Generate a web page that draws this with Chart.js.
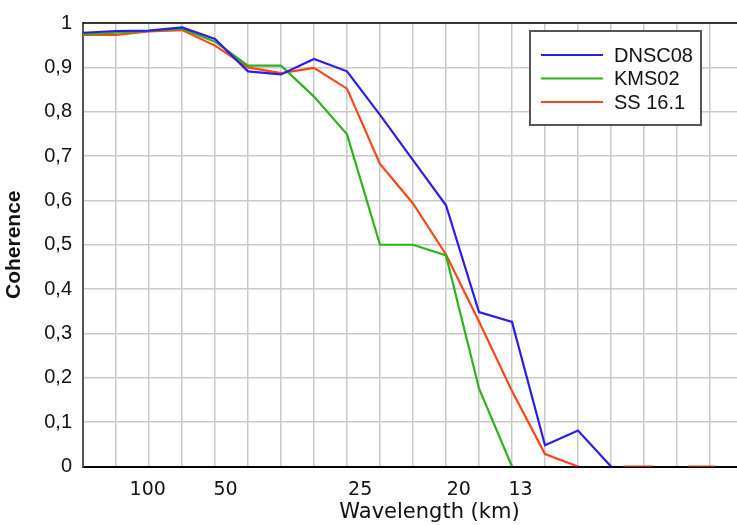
<!DOCTYPE html>
<html lang="en">

<head>
    <meta charset="UTF-8">
    <title>Coherence vs wavelength</title>
    <style>
        html, body {
            margin: 0;
            padding: 0;
            background-color: #fff;
            overflow: hidden;
        }

        .wrap {
            width: 788px;
            height: 525px;
        }
    </style>
</head>

<body>
    <div class="wrap">
        <canvas id="coherenceChart" width="788" height="525"></canvas>
    </div>

    <script src="https://cdn.jsdelivr.net/npm/chart.js"></script>
    <script>
        // spectral bins along the x axis (one per grid line)
        const binIndex = [0, 1, 2, 3, 4, 5, 6, 7, 8, 9, 10, 11, 12, 13, 14, 15, 16];

        const dnsc08 = [0.978, 0.982, 0.983, 0.990, 0.964, 0.891, 0.884, 0.919, 0.891, 0.793, 0.691, 0.589, 0.348, 0.326, 0.048, 0.081, 0];
        const kms02 = [0.975, 0.978, 0.982, 0.987, 0.958, 0.904, 0.904, 0.834, 0.749, 0.500, 0.500, 0.476, 0.176, 0];
        const ss161 = [0.973, 0.973, 0.981, 0.984, 0.949, 0.900, 0.887, 0.899, 0.852, 0.682, 0.593, 0.478, 0.327, 0.170, 0.028, 0];
        // short zero stretches at the end of SS 16.1 (null = gap)
        const ss161TailX = [15.5, 16.37, 17.28, 17.8, 18.34, 19.15];
        const ss161TailY = [null, 0, 0, null, 0, 0];

        // wavelength labels and where they sit on the bin axis
        const wavelengthLabels = ['100', '50', '25', '20', '13'];
        const wavelengthPos = [1.96, 4.32, 8.4, 11.39, 13.26];

        const gridColor = '#c9c9c9';

        function toPoints(values) {
            return values.map((y, i) => ({ x: binIndex[i], y: y }));
        }

        const ssPoints = toPoints(ss161).concat(ss161TailX.map((x, i) => ({ x: x, y: ss161TailY[i] })));

        // top frame line + boxed legend inside the plot
        const framePlugin = {
            id: 'frame',
            afterDatasetsDraw(chart) {
                const ctx = chart.ctx;
                const a = chart.chartArea;
                ctx.save();
                ctx.strokeStyle = '#000';
                ctx.lineWidth = 1.5;
                ctx.beginPath();
                ctx.moveTo(a.left, a.top);
                ctx.lineTo(a.right, a.top);
                ctx.stroke();

                const bx = a.left + 447, by = a.top + 8, bw = 171, bh = 94;
                ctx.fillStyle = '#fff';
                ctx.fillRect(bx, by, bw, bh);
                ctx.strokeStyle = '#555';
                ctx.lineWidth = 2;
                ctx.strokeRect(bx, by, bw, bh);

                ctx.font = '20px "Liberation Sans", Arial, sans-serif';
                ctx.textBaseline = 'middle';
                ctx.textAlign = 'left';
                chart.data.datasets.forEach((ds, i) => {
                    const y = by + 24 + i * 23.5;
                    ctx.strokeStyle = ds.borderColor;
                    ctx.lineWidth = 2;
                    ctx.beginPath();
                    ctx.moveTo(bx + 11, y);
                    ctx.lineTo(bx + 73, y);
                    ctx.stroke();
                    ctx.fillStyle = '#111';
                    ctx.fillText(ds.label, bx + 84, y + 1);
                });
                ctx.restore();
            }
        };

        const ctx = document.getElementById('coherenceChart').getContext('2d');
        new Chart(ctx, {
            type: 'line',
            data: {
                datasets: [{
                    label: 'DNSC08',
                    data: toPoints(dnsc08),
                    borderColor: '#2b1de6',
                    borderWidth: 2.2
                }, {
                    label: 'KMS02',
                    data: toPoints(kms02),
                    borderColor: '#2db21c',
                    borderWidth: 2.2
                }, {
                    label: 'SS 16.1',
                    data: ssPoints,
                    borderColor: '#ff4419',
                    borderWidth: 2.2
                }]
            },
            options: {
                responsive: false,
                animation: false,
                layout: { padding: { top: 17, left: 0, right: 0, bottom: 0 } },
                elements: {
                    point: { radius: 0 },
                    line: { tension: 0 }
                },
                plugins: {
                    legend: { display: false },
                    tooltip: { enabled: false }
                },
                scales: {
                    x: {
                        type: 'linear',
                        min: 0,
                        max: 21,
                        afterBuildTicks: axis => {
                            const t = [];
                            for (let i = 0; i <= 21; i++) t.push({ value: i });
                            wavelengthPos.forEach(p => t.push({ value: p }));
                            axis.ticks = t.sort((a, b) => a.value - b.value);
                        },
                        afterFit: s => { s.height = 58.5; },
                        ticks: {
                            autoSkip: false,
                            maxRotation: 0,
                            padding: 12,
                            color: '#111',
                            font: { family: '"DejaVu Sans", Verdana, sans-serif', size: 19 },
                            callback: value => {
                                const k = wavelengthPos.indexOf(value);
                                return k >= 0 ? wavelengthLabels[k] : '';
                            }
                        },
                        grid: {
                            drawTicks: false,
                            lineWidth: 1.5,
                            color: c => (c.tick && wavelengthPos.includes(c.tick.value)) ? 'rgba(0,0,0,0)' : gridColor
                        },
                        border: { color: '#000', width: 2 },
                        title: {
                            display: true,
                            text: 'Wavelength (km)',
                            color: '#111',
                            padding: { top: 0, bottom: 0 },
                            font: { family: '"DejaVu Sans", Verdana, sans-serif', size: 21 }
                        }
                    },
                    y: {
                        min: 0,
                        max: 1,
                        afterFit: s => { s.width = 83; },
                        ticks: {
                            stepSize: 0.1,
                            padding: 11,
                            color: '#111',
                            font: { family: '"Liberation Sans", Arial, sans-serif', size: 20 },
                            callback: v => {
                                const r = Math.round(v * 10) / 10;
                                return (r === 0 || r === 1) ? String(r) : r.toFixed(1).replace('.', ',');
                            }
                        },
                        grid: {
                            drawTicks: false,
                            lineWidth: 1.5,
                            color: gridColor
                        },
                        border: { color: '#555', width: 2 },
                        title: {
                            display: true,
                            text: 'Coherence',
                            color: '#111',
                            padding: { top: 2, bottom: 0 },
                            font: { family: '"Liberation Sans", Arial, sans-serif', size: 21, weight: 'bold' }
                        }
                    }
                }
            },
            plugins: [framePlugin]
        });
    </script>

</body>

</html>
